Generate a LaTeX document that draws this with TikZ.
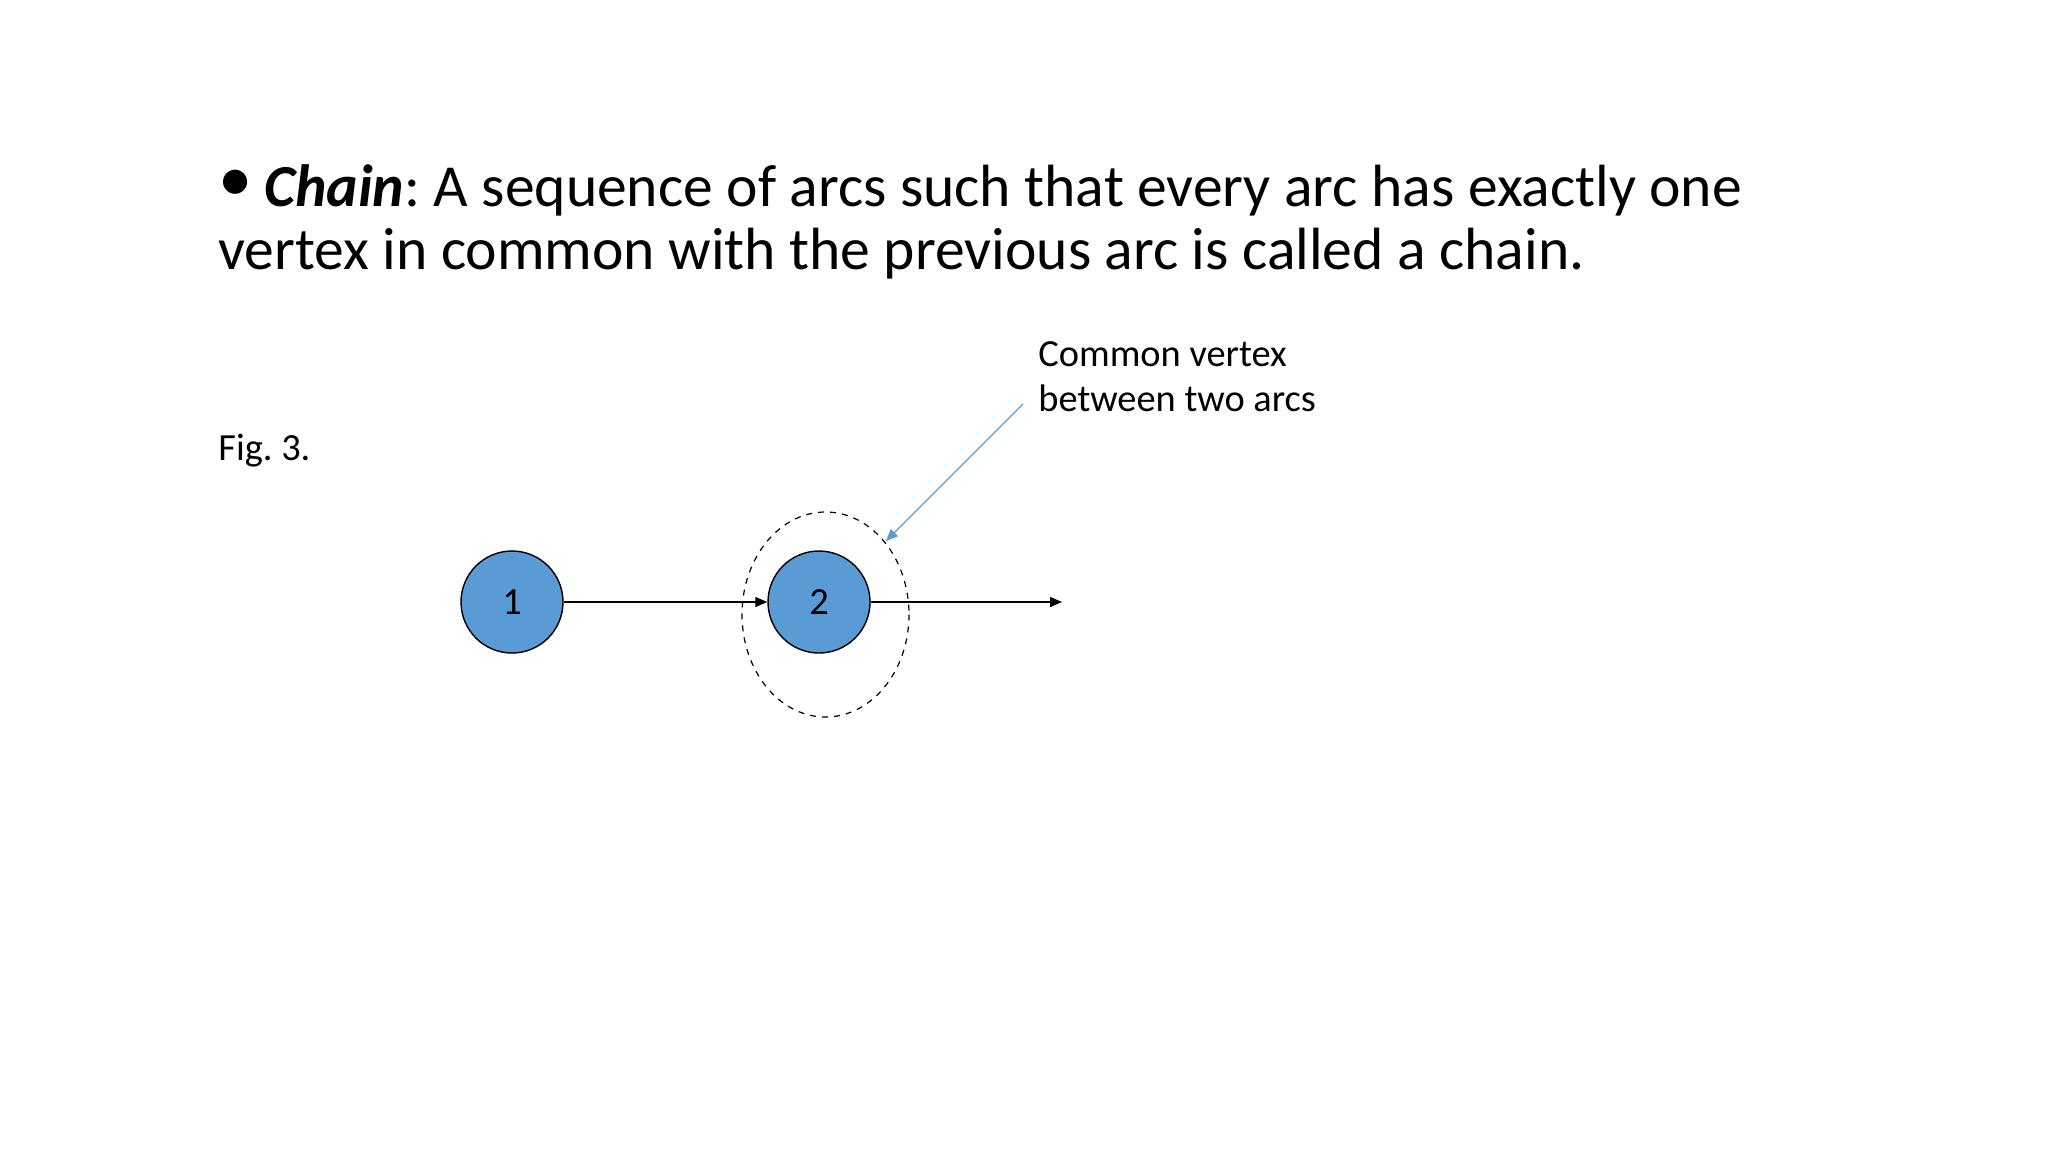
\documentclass[tikz,border=0pt]{standalone}
\usepackage{fontspec}
\setmainfont{Carlito}
\usetikzlibrary{arrows.meta}
\definecolor{officeblue}{HTML}{5B9BD5}
\frenchspacing
\tikzset{
  bigtext/.style={anchor=base west, inner sep=0pt, font=\fontsize{29.8}{32}\selectfont},
  smalltext/.style={anchor=base west, inner sep=0pt, font=\fontsize{19.2}{23}\selectfont},
  vertexnode/.style={circle, draw=black, line width=0.7pt, fill=officeblue, minimum size=51pt, inner sep=0pt, font=\fontsize{19.2}{23}\selectfont},
  arc/.style={line width=0.6pt, -{Triangle[length=6pt,width=5pt]}},
}
\begin{document}
\frenchspacing
\begin{tikzpicture}[x=0.5pt,y=-0.5pt]
\useasboundingbox (0,0) rectangle (2048,1152);
\node[bigtext] (l1) at (218,206) {\raisebox{0.08em}{\scalebox{1.15}{\textbullet}}\hspace{0.2em}\textbf{\textit{Chain}}: A sequence of arcs such that every arc has exactly one};
\node[bigtext] (l2) at (218,269) {vertex in common with the previous arc is called a chain.};
\node[smalltext] (fig) at (218,460) {Fig. 3.};
\node[smalltext] (lab1) at (1038,366) {Common vertex};
\node[smalltext] (lab2) at (1038,411) {between two arcs};
\node[vertexnode] (n1) at (512,602) {\raisebox{-0.1em}{1}};
\node[vertexnode] (n2) at (819,602) {\raisebox{-0.1em}{2}};
\coordinate (end) at (1062,602);
\draw[dashed, line width=0.6pt] (825.5,614.5) ellipse [x radius=83.5, y radius=102.5];
\coordinate (ptr) at (1023,404);
\coordinate (ptrend) at (886,541);
\draw[arc] (n1) -- (n2);
\draw[arc] (n2) -- (end);
\draw[officeblue, line width=0.6pt, -{Triangle[length=6pt,width=5pt]}] (ptr) -- (ptrend);
\end{tikzpicture}
\end{document}
